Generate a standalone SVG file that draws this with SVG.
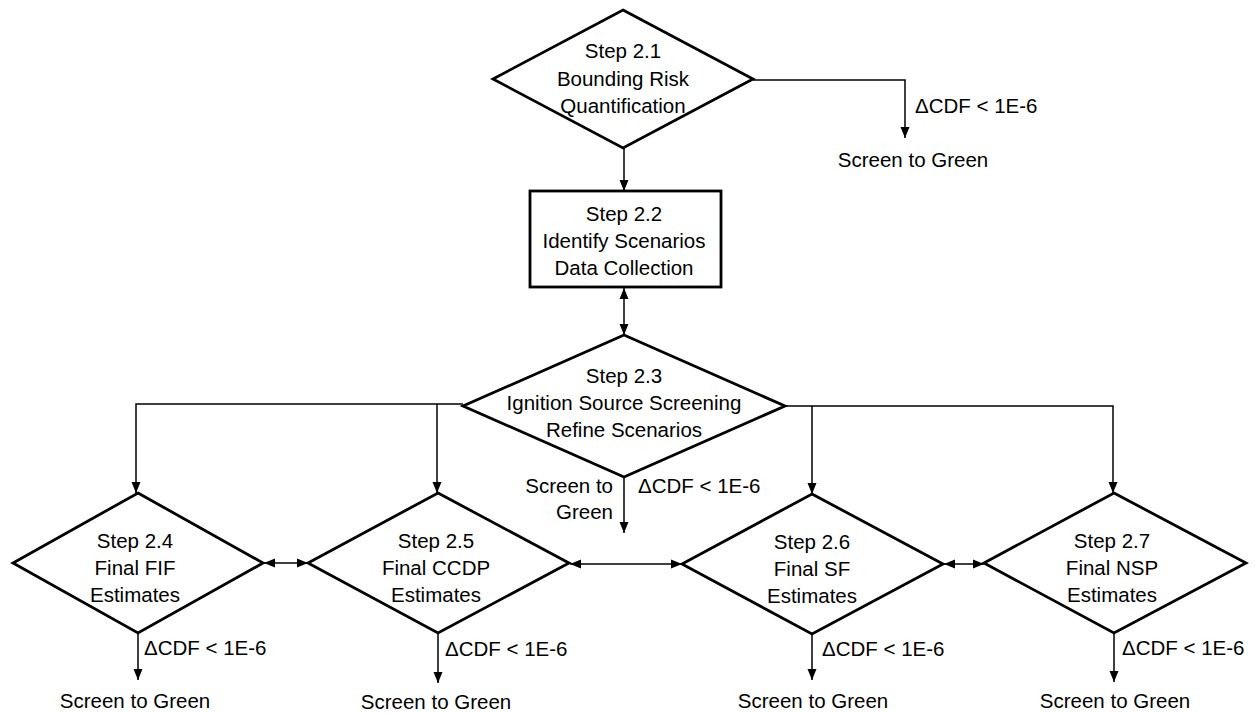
<svg xmlns="http://www.w3.org/2000/svg" width="1255" height="713" viewBox="0 0 1255 713">
<style>
text{font-family:"Liberation Sans",Arial,sans-serif;font-size:20.5px;fill:#000}
.c{text-anchor:middle}
.e{text-anchor:end}
.node{fill:#fff;stroke:#000;stroke-width:2.8;stroke-linejoin:miter}
.con path{fill:none;stroke:#000;stroke-width:1.5}
.a{marker-end:url(#arr)}
.b{marker-start:url(#arr);marker-end:url(#arr)}
</style>
<defs>
<marker id="arr" markerUnits="userSpaceOnUse" markerWidth="12" markerHeight="10" refX="11" refY="5" orient="auto-start-reverse" viewBox="0 0 12 10">
<path d="M0,0.5 L11,5 L0,9.5 z" fill="#000"/>
</marker>
</defs>
<rect width="1255" height="713" fill="#fff"/>
<g id="connectors" class="con">
<path class="a" d="M624,148 V191"/>
<path class="a" d="M753,80 H905 V138"/>
<path class="b" d="M624,288 V335"/>
<path class="a" d="M463,404 H136 V493"/>
<path class="a" d="M437,404 V493"/>
<path class="a" d="M785,406 H1113 V493"/>
<path class="a" d="M812,406 V494"/>
<path class="a" d="M624,477 V533"/>
<path class="b" d="M264,563 H308"/>
<path class="b" d="M570,564 H682"/>
<path class="b" d="M944,564 H984"/>
<path class="a" d="M138,633 V680"/>
<path class="a" d="M438,633 V683"/>
<path class="a" d="M812,634 V680"/>
<path class="a" d="M1114,633 V682"/>
</g>
<g id="step21">
<polygon class="node" points="623,10 753,79 623,148 493,79"/>
<text class="c" x="623" y="58">Step 2.1</text>
<text class="c" x="623" y="86">Bounding Risk</text>
<text class="c" x="623" y="113">Quantification</text>
</g>
<g id="step22">
<rect class="node" x="530" y="191" width="191" height="96"/>
<text class="c" x="624" y="221">Step 2.2</text>
<text class="c" x="624" y="248">Identify Scenarios</text>
<text class="c" x="624" y="275">Data Collection</text>
</g>
<g id="step23">
<polygon class="node" points="624,335 785,406 624,477 463,406"/>
<text class="c" x="624" y="383">Step 2.3</text>
<text class="c" x="624" y="410">Ignition Source Screening</text>
<text class="c" x="624" y="437">Refine Scenarios</text>
</g>
<g id="step24">
<polygon class="node" points="138,493 263,563 138,633 13,563"/>
<text class="c" x="135" y="548">Step 2.4</text>
<text class="c" x="135" y="575">Final FIF</text>
<text class="c" x="135" y="602">Estimates</text>
</g>
<g id="step25">
<polygon class="node" points="438,493 569,563 438,633 308,563"/>
<text class="c" x="436" y="548">Step 2.5</text>
<text class="c" x="436" y="575">Final CCDP</text>
<text class="c" x="436" y="602">Estimates</text>
</g>
<g id="step26">
<polygon class="node" points="812,494 943,564 812,634 682,564"/>
<text class="c" x="812" y="549">Step 2.6</text>
<text class="c" x="812" y="576">Final SF</text>
<text class="c" x="812" y="603">Estimates</text>
</g>
<g id="step27">
<polygon class="node" points="1114,493 1246,563 1114,633 984,563"/>
<text class="c" x="1112" y="548">Step 2.7</text>
<text class="c" x="1112" y="575">Final NSP</text>
<text class="c" x="1112" y="602">Estimates</text>
</g>
<g id="labels">
<text x="915" y="113">ΔCDF &lt; 1E-6</text>
<text class="c" x="913" y="167">Screen to Green</text>
<text class="e" x="613" y="493">Screen to</text>
<text class="e" x="613" y="519">Green</text>
<text x="638" y="493">ΔCDF &lt; 1E-6</text>
<text x="144" y="655">ΔCDF &lt; 1E-6</text>
<text class="c" x="135" y="708">Screen to Green</text>
<text x="445" y="656">ΔCDF &lt; 1E-6</text>
<text class="c" x="436" y="709">Screen to Green</text>
<text x="822" y="656">ΔCDF &lt; 1E-6</text>
<text class="c" x="813" y="708">Screen to Green</text>
<text x="1122" y="655">ΔCDF &lt; 1E-6</text>
<text class="c" x="1115" y="708">Screen to Green</text>
</g>
</svg>
